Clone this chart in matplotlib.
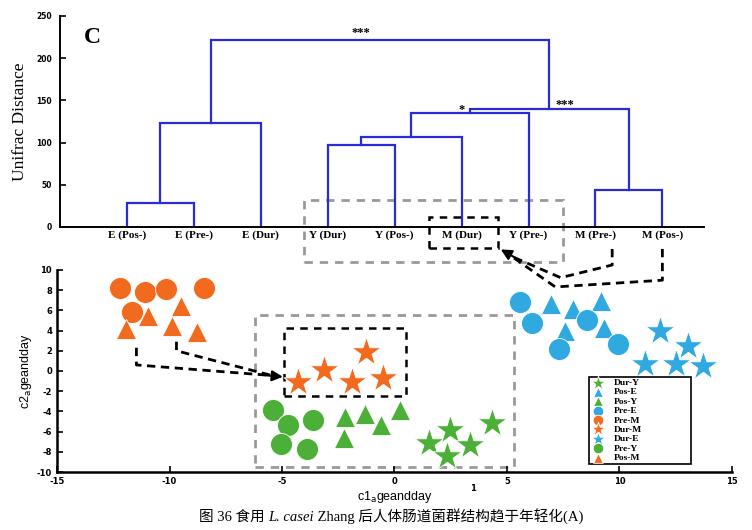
import matplotlib.pyplot as plt
import numpy as np

plt.rcParams["axes.unicode_minus"] = False

# ── Data ───────
leaves = ["E (Pos-)", "E (Pre-)", "E (Dur)", "Y (Dur)", "Y (Pos-)",
          "M (Dur)", "Y (Pre-)", "M (Pre-)", "M (Pos-)"]
# merges: (left node, right node, height); leaves are 0..8, new nodes 9..
merges = [(0, 1, 28), (9, 2, 123), (3, 4, 97), (11, 5, 107),
          (12, 6, 135), (7, 8, 44), (13, 14, 140), (10, 15, 222)]

groups = ["Dur-Y", "Pos-E", "Pos-Y", "Pre-E", "Pre-M", "Dur-M", "Dur-E", "Pre-Y", "Pos-M"]
pts_x = {
    "Pre-M": [-12.2, -11.1, -10.15, -8.45, -11.65],
    "Pos-M": [-9.5, -10.95, -11.95, -9.9, -8.8],
    "Dur-M": [-4.3, -3.15, -1.25, -1.9, -0.5],
    "Pre-Y": [-5.4, -4.75, -3.6, -5.05, -3.9],
    "Pos-Y": [-2.2, -1.3, -2.25, -0.6, 0.25],
    "Dur-Y": [1.55, 2.45, 3.35, 2.35, 4.35],
    "Pre-E": [5.6, 6.1, 8.55, 7.3, 9.95],
    "Pos-E": [6.95, 7.95, 9.2, 7.6, 9.3],
    "Dur-E": [11.8, 13.05, 11.15, 12.5, 13.7],
}
pts_y = {
    "Pre-M": [8.2, 7.8, 8.1, 8.2, 5.8],
    "Pos-M": [6.4, 5.4, 4.2, 4.5, 3.9],
    "Dur-M": [-1.05, 0.1, 1.9, -1.05, -0.7],
    "Pre-Y": [-3.9, -5.3, -4.85, -7.25, -7.75],
    "Pos-Y": [-4.6, -4.3, -6.6, -5.3, -3.9],
    "Dur-Y": [-7.15, -5.85, -7.35, -8.4, -5.1],
    "Pre-E": [6.8, 4.8, 5.0, 2.2, 2.65],
    "Pos-E": [6.6, 6.1, 6.9, 4.0, 4.3],
    "Dur-E": [3.95, 2.5, 0.65, 0.65, 0.45],
}

C_ORANGE = "#F26A1E"
C_GREEN  = "#4CAF38"
C_BLUE   = "#30A8E0"
C_LINE   = "#2B2BD6"
C_GRAY   = "#999999"
colors  = {"M": C_ORANGE, "Y": C_GREEN, "E": C_BLUE}
markers = {"Pre": ("o", 250), "Pos": ("^", 210), "Dur": ("*", 480)}

SERIF = "Liberation Serif"

fig = plt.figure(figsize=(7.52, 5.30), dpi=100, facecolor="white")

# ── Dendrogram ───────
ax1 = fig.add_axes([0.0798, 0.5717, 0.8562, 0.3983])
ax1.set_zorder(2)
ax1.set_facecolor("none")
xpos = {i: i + 1.0 for i in range(len(leaves))}
hgt = {i: 0.0 for i in range(len(leaves))}
for k, (a, b, h) in enumerate(merges):
    node = len(leaves) + k
    ax1.plot([xpos[a], xpos[a], xpos[b], xpos[b]], [hgt[a], h, h, hgt[b]],
             color=C_LINE, lw=1.6, solid_joinstyle="miter")
    xpos[node] = (xpos[a] + xpos[b]) / 2
    hgt[node] = h

ax1.set_xlim(0, 9.62)
ax1.set_ylim(0, 250)
ax1.set_xticks([])
ax1.set_yticks(np.arange(0, 251, 50))
ax1.tick_params(axis="y", direction="in", length=4, width=1.2, labelsize=5.5, pad=6)
for t in ax1.get_yticklabels():
    t.set_fontweight("bold")
ax1.spines[["top", "right"]].set_visible(False)
ax1.spines[["left", "bottom"]].set_linewidth(1.4)
ax1.set_ylabel("Unifrac Distance", family=SERIF, fontsize=12.5, labelpad=6)
for i, name in enumerate(leaves):
    ax1.text(i + 1, -4, name, ha="center", va="top", family=SERIF,
             fontsize=8, fontweight="bold")
ax1.text(0.35, 225, "C", family=SERIF, fontsize=17, fontweight="bold", va="center")
ax1.text(4.49, 230, "***", ha="center", va="center", family=SERIF, fontsize=9, fontweight="bold")
ax1.text(6.0, 138, "*", ha="center", va="center", family=SERIF, fontsize=9, fontweight="bold")
ax1.text(7.55, 145, "***", ha="center", va="center", family=SERIF, fontsize=9, fontweight="bold")

# boxes and arrows between panels
ax1.add_patch(plt.Rectangle((3.64, -41.5), 3.88, 73.5, fill=False, ec=C_GRAY,
                            lw=2, ls=(0, (3, 2.5)), clip_on=False))
ax1.add_patch(plt.Rectangle((5.51, -24.9), 1.03, 36.7, fill=False, ec="black",
                            lw=1.8, ls=(0, (3, 2.5)), clip_on=False))
tip1 = (6.55, -24.9)
for path in ([(8.25, -26), (8.25, -45), (7.48, -60)], [(9.0, -26), (9.0, -63), (7.40, -71)]):
    xs = [p[0] for p in path] + [tip1[0] + 0.2]
    ys = [p[1] for p in path] + [tip1[1] - 10]
    ax1.plot(xs, ys, color="black", lw=2, ls=(0, (3, 2)), clip_on=False)
ax1.annotate("", xy=tip1, xytext=(tip1[0] + 0.35, tip1[1] - 16),
             arrowprops=dict(arrowstyle="-|>", color="black", lw=1.5,
                             mutation_scale=16), annotation_clip=False)

# ── Scatter ───────
ax2 = fig.add_axes([0.0758, 0.1094, 0.8976, 0.3812])
ax2.set_zorder(1)
for g in groups:
    phase, grp = g.split("-")
    m, s = markers[phase]
    ax2.scatter(pts_x[g], pts_y[g], marker=m, s=s, color=colors[grp],
                edgecolors="white", linewidths=0.6, label=g, zorder=3)

ax2.set_xlim(-15, 15)
ax2.set_ylim(-10, 10)
ax2.set_xticks(np.arange(-15, 16, 5))
ax2.set_yticks(np.arange(-10, 11, 2))
ax2.tick_params(direction="in", length=4, width=1.2, labelsize=6)
for t in ax2.get_xticklabels() + ax2.get_yticklabels():
    t.set_fontweight("bold")
ax2.spines[["top", "right"]].set_visible(False)
ax2.spines[["left", "bottom"]].set_linewidth(1.8)
ax2.set_xlabel("c1$_{\\mathrm{a}}$geandday", family="Liberation Sans", fontsize=9, labelpad=2)
ax2.set_ylabel("c2$_{\\mathrm{a}}$geandday", family="Liberation Sans", fontsize=9, labelpad=2)
ax2.text(3.5, -11.6, "1", ha="center", va="center", fontsize=6, fontweight="bold")

ax2.add_patch(plt.Rectangle((-6.22, -9.5), 11.55, 15.0, fill=False, ec=C_GRAY,
                            lw=2, ls=(0, (3, 2.5)), zorder=1))
ax2.add_patch(plt.Rectangle((-4.93, -2.5), 5.42, 6.8, fill=False, ec="black",
                            lw=1.8, ls=(0, (3, 2.5)), zorder=1))
tip2 = (-4.84, -0.6)
for path in ([(-11.47, 2.3), (-11.47, 0.6)], [(-9.69, 2.9), (-9.69, 2.0)]):
    xs = [p[0] for p in path] + [tip2[0] - 0.6]
    ys = [p[1] for p in path] + [tip2[1] + 0.15]
    ax2.plot(xs, ys, color="black", lw=2, ls=(0, (3, 2)), zorder=2)
ax2.annotate("", xy=tip2, xytext=(tip2[0] - 1.0, tip2[1] + 0.2),
             arrowprops=dict(arrowstyle="-|>", color="black", lw=1.5,
                             mutation_scale=16), zorder=2)

leg = ax2.legend(loc="lower left", bbox_to_anchor=(0.788, 0.04, 0.151, 0.41),
                 mode="expand", fancybox=False, edgecolor="black", framealpha=1,
                 prop={"family": SERIF, "weight": "bold", "size": 6.8},
                 labelspacing=0.08, handletextpad=0.8, borderpad=0.2,
                 handlelength=1.6, markerscale=0.48, borderaxespad=0)
leg.get_frame().set_linewidth(1.2)

# ── Caption ───────
fig.canvas.draw()
r = fig.canvas.get_renderer()
parts = [("图 36 食用 ", "normal"), ("L. casei", "italic"),
         (" Zhang 后人体肠道菌群结构趋于年轻化(A)", "normal")]
texts = []
for s, st in parts:
    texts.append(fig.text(0, 0.017, s, family=[SERIF, "Noto Sans CJK SC"],
                          style=st, fontsize=10.5, va="baseline"))
widths = [t.get_window_extent(r).width for t in texts]
x0 = 391 - sum(widths) / 2
for t, w in zip(texts, widths):
    t.set_x(x0 / 752)
    x0 += w

fig.savefig("out.png", dpi=100, facecolor="white")
